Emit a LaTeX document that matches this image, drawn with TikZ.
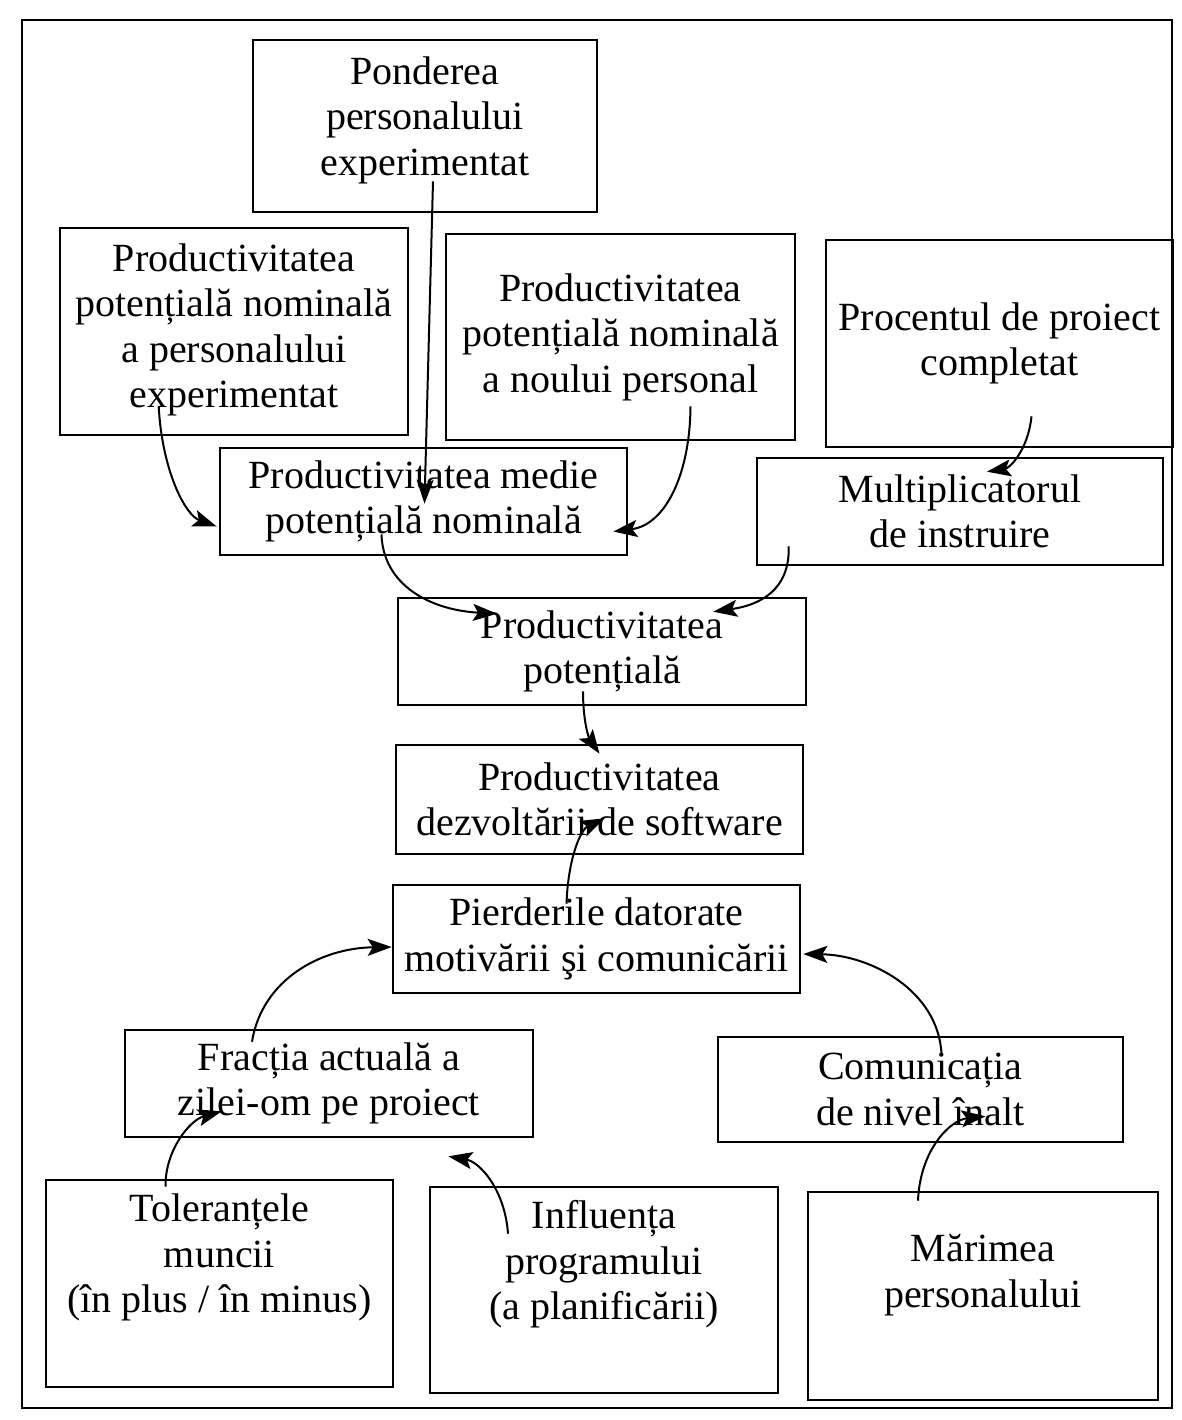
\documentclass[tikz,border=0pt]{standalone}
\usepackage{fontspec}
\setmainfont{Liberation Serif}
\usetikzlibrary{arrows.meta,calc}

\begin{document}
\begin{tikzpicture}[x=0.5pt, y=-0.5pt,
    casuta/.style={draw, line width=1.3pt, align=center, inner sep=0pt,
        font=\fontsize{20}{22.7}\selectfont},
    sageata/.style={-{Stealth[length=12pt,width=8.5pt,inset=2.5pt]}, line width=1pt}]

    \useasboundingbox (0,0) rectangle (1182,1420);

    % chenar ↓
    \draw [line width=1.3pt] (22,20) rectangle (1172,1408);

    % casute sus ↓
    \node [casuta, minimum width=172pt, minimum height=86pt, text depth=10pt] (pondere) at (425,126)
        {Ponderea\\personalului\\experimentat};
    \node [casuta, minimum width=174pt, minimum height=103.5pt, text depth=6pt] (prodExp) at (234,331.5)
        {Productivitatea\\potențială nominală\\a personalului\\experimentat};
    \node [casuta, minimum width=174.5pt, minimum height=103pt] (prodNou) at (620.5,337)
        {Productivitatea\\potențială nominală\\a noului personal};
    \node [casuta, minimum width=173.5pt, minimum height=103.5pt] (procent) at (999.5,343.5)
        {Procentul de proiect\\completat};

    % casute mijloc ↓
    \node [casuta, minimum width=203.5pt, minimum height=53.5pt] (medie) at (423.5,501.5)
        {Productivitatea medie\\potențială nominală};
    \node [casuta, minimum width=203pt, minimum height=53.5pt] (multipl) at (960,511.5)
        {Multiplicatorul\\de instruire};
    \node [casuta, minimum width=204pt, minimum height=53.5pt] (potential) at (602,651.5)
        {Productivitatea\\potențială};
    \node [casuta, minimum width=203.5pt, minimum height=54.5pt] (dezvoltare) at (599.5,799.5)
        {Productivitatea\\dezvoltării de software};
    \node [casuta, minimum width=203.5pt, minimum height=54pt] (pierderi) at (596.5,939)
        {Pierderile datorate\\motivării şi comunicării};
    \node [casuta, minimum width=204pt, minimum height=53.5pt] (fractia) at (329,1083.5)
        {Fracția actuală a\\zilei-om pe proiect};
    \node [casuta, minimum width=202.5pt, minimum height=52.5pt] (comunic) at (920.5,1089.5)
        {Comunicația\\de nivel înalt};

    % casute jos ↓
    \node [casuta, minimum width=173.5pt, minimum height=103.5pt, text depth=30pt] (tolerante) at (219.5,1283.5)
        {Toleranțele\\muncii\\(în plus / în minus)};
    \node [casuta, minimum width=174pt, minimum height=103pt, text depth=30pt] (influenta) at (604,1290)
        {Influența\\programului\\(a planificării)};
    \node [casuta, minimum width=175pt, minimum height=104pt, text depth=25pt] (marime) at (983,1296)
        {Mărimea\\personalului};

    % sageti ↓
    \draw [sageata] ([shift={(8,-32)}]pondere.south) -- ([shift={(1,57)}]medie.north);
    \draw [sageata] ([shift={(100,-30)}]prodExp.south west)
        .. controls (162,470) and (185,515) .. ([shift={(-2,25)}]medie.west);
    \draw [sageata] ([shift={(70,-35)}]prodNou.south)
        .. controls (690,475) and (665,525) .. ([shift={(-15,30)}]medie.east);
    \draw [sageata] ([shift={(32,-32)}]procent.south)
        .. controls (1028,450) and (1010,468) .. ([shift={(27,15)}]multipl.north);
    \draw [sageata] ([shift={(-42,-22)}]medie.south)
        .. controls (383,585) and (430,610) .. ([shift={(-105,17)}]potential.north);
    \draw [sageata] ([shift={(33,-20)}]multipl.south west)
        .. controls (790,590) and (760,605) .. ([shift={(-94,15)}]potential.north east);
    \draw [sageata] ([shift={(-19,-15)}]potential.south)
        .. controls (583,725) and (590,740) .. ([shift={(0,10)}]dezvoltare.north);
    \draw [sageata] ([shift={(-30,20)}]pierderi.north)
        .. controls (568,860) and (580,830) .. ([shift={(5,-37)}]dezvoltare.south);
    \draw [sageata] ([shift={(-77,13)}]fractia.north)
        .. controls (262,980) and (320,948) .. ([shift={(0,8)}]pierderi.west);
    \draw [sageata] ([shift={(21,18)}]comunic.north)
        .. controls (938,990) and (870,955) .. ([shift={(2,15)}]pierderi.east);
    \draw [sageata] ([shift={(-54,8)}]tolerante.north)
        .. controls (165,1150) and (190,1120) .. ([shift={(98,-27)}]fractia.south west);
    \draw [sageata] ([shift={(-96,48)}]influenta.north)
        .. controls (505,1190) and (480,1162) .. ([shift={(-86,18)}]fractia.south east);
    \draw [sageata] ([shift={(-65,10)}]marime.north)
        .. controls (920,1150) and (950,1120) .. ([shift={(65,-27)}]comunic.south);

\end{tikzpicture}
\end{document}
